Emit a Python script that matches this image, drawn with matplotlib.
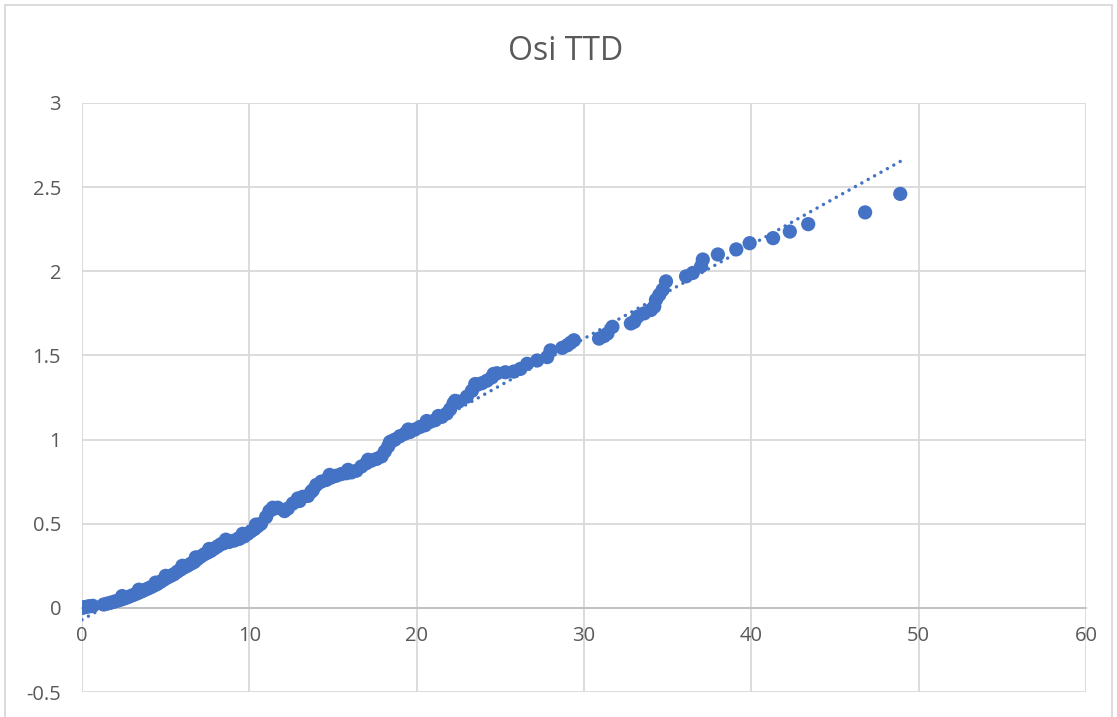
import matplotlib.pyplot as plt
from matplotlib.lines import Line2D
import numpy as np

# values
x_vals = [0.0, 0.1, 0.2, 0.35, 0.5, 0.65, 1.3, 1.5, 1.7, 1.9, 2.1, 2.3, 2.5, 2.7, 2.9,
          3.1, 3.3, 3.5, 3.7, 3.9, 4.1, 4.3, 4.5, 4.7, 4.9, 5.1, 5.3, 5.5, 5.7, 5.9,
          6.1, 6.3, 6.5, 6.7, 6.9, 7.1, 7.3, 7.5, 7.7, 7.9, 8.1, 8.3, 8.5, 8.8, 9.1,
          9.4, 9.7, 9.9, 10.1, 10.3, 10.5, 10.7, 11.0, 11.2, 11.5, 11.7, 12.1, 12.3,
          12.6, 12.9, 13.2, 13.5, 13.8, 14.0, 14.3, 14.6, 14.9, 15.2, 15.5, 15.8,
          16.1, 16.4, 16.7, 17.0, 17.3, 17.6, 17.9, 18.1, 18.3, 18.5, 18.7, 19.0,
          19.3, 19.6, 19.9, 20.2, 20.5, 20.8, 21.1, 21.5, 21.8, 22.0, 22.2, 22.5,
          23.0, 23.3, 23.6, 23.9, 24.2, 24.5, 24.8, 25.3, 25.8, 26.2, 26.6, 27.2,
          27.8, 28.0, 28.7, 29.0, 29.2, 29.4, 30.9, 31.2, 31.4, 31.7, 32.8, 33.0,
          33.2, 33.6, 34.0, 34.2, 34.3, 34.5, 34.7, 34.9, 36.1, 36.5, 37.0, 37.1,
          38.0, 39.1, 39.9, 41.3, 42.3, 43.4, 46.8, 48.9,
          # extra points that thicken the dense lower band
          2.4, 3.4, 4.4, 5.0, 6.0, 6.8, 7.6, 8.6, 9.6, 10.4, 11.4, 13.0, 13.7,
          14.8, 15.9, 17.1, 18.4, 19.5, 20.6, 21.3, 22.3, 23.5, 24.6]
y_vals = [0.000, 0.003, 0.005, 0.008, 0.010, 0.012, 0.020, 0.025, 0.030, 0.036, 0.042,
          0.048, 0.055, 0.062, 0.070, 0.078, 0.086, 0.095, 0.104, 0.113, 0.122, 0.132,
          0.142, 0.155, 0.168, 0.180, 0.190, 0.200, 0.215, 0.228, 0.240, 0.250, 0.262,
          0.272, 0.290, 0.305, 0.318, 0.328, 0.338, 0.352, 0.365, 0.378, 0.385, 0.392,
          0.400, 0.410, 0.425, 0.440, 0.455, 0.468, 0.485, 0.500, 0.540, 0.575, 0.590,
          0.595, 0.575, 0.590, 0.620, 0.650, 0.660, 0.665, 0.700, 0.730, 0.750, 0.760,
          0.775, 0.785, 0.795, 0.800, 0.805, 0.815, 0.840, 0.860, 0.875, 0.885, 0.900,
          0.930, 0.960, 0.990, 1.000, 1.020, 1.035, 1.045, 1.060, 1.075, 1.085, 1.105,
          1.115, 1.135, 1.155, 1.180, 1.215, 1.225, 1.255, 1.290, 1.325, 1.335, 1.350,
          1.370, 1.394, 1.400, 1.404, 1.420, 1.450, 1.470, 1.490, 1.530, 1.545, 1.560,
          1.575, 1.590, 1.600, 1.615, 1.630, 1.670, 1.690, 1.700, 1.730, 1.750, 1.770,
          1.790, 1.830, 1.860, 1.890, 1.940, 1.970, 1.990, 2.030, 2.070, 2.100, 2.130,
          2.167, 2.197, 2.236, 2.280, 2.350, 2.460,
          0.070, 0.108, 0.150, 0.190, 0.250, 0.300, 0.350, 0.405, 0.440, 0.495, 0.595,
          0.635, 0.690, 0.790, 0.820, 0.880, 0.985, 1.060, 1.110, 1.140, 1.230,
          1.330, 1.390]

blue = '#4472C4'
grid_gray = '#d9d9d9'
text_gray = '#595959'

fig = plt.figure(figsize=(11.17, 7.17), dpi=100)
ax = fig.add_axes([82 / 1117, 1 - 692 / 717, 1004 / 1117, 589 / 717])

# chart area border
for xs, ys in [([5, 5], [0, 712]), ([5, 1112], [712, 712]), ([1112, 1112], [0, 712])]:
    fig.add_artist(Line2D([v / 1117 for v in xs], [v / 717 for v in ys],
                          color=grid_gray, lw=1.3, transform=fig.transFigure))

ax.scatter(x_vals, y_vals, s=105, color=blue, edgecolors='none', zorder=3)

# linear trendline
slope, intercept = np.polyfit(x_vals, y_vals, 1)
tx = np.array([min(x_vals), max(x_vals)])
ax.plot(tx, slope * tx + intercept, color=blue, lw=2.5,
        linestyle=(0, (0.01, 2.1)), dash_capstyle='round', zorder=4)

ax.set_xlim(0, 60)
ax.set_ylim(-0.5, 3)
ax.set_xticks(np.arange(0, 61, 10))
ax.set_yticks(np.arange(-0.5, 3.01, 0.5))
ax.set_yticklabels(['-0.5', '0', '0.5', '1', '1.5', '2', '2.5', '3'])
ax.grid(True, color=grid_gray, lw=1.3, zorder=0)
ax.set_axisbelow(True)

for side in ['top', 'right', 'left']:
    ax.spines[side].set_visible(False)
ax.spines['bottom'].set_position(('data', 0))
ax.spines['bottom'].set_color('#bfbfbf')
ax.spines['bottom'].set_linewidth(1.3)
ax.spines['bottom'].set_zorder(1)
ax.tick_params(length=0, labelsize=14.5, labelcolor=text_gray)
ax.tick_params(axis='x', pad=13)
ax.tick_params(axis='y', pad=15)

fig.text(566 / 1117, 1 - 51 / 717, 'Osi TTD', ha='center', va='center',
         fontsize=23, color=text_gray, family='Open Sans')
for lab in ax.get_xticklabels() + ax.get_yticklabels():
    lab.set_family('Open Sans')

fig.savefig('out.png', dpi=100)
